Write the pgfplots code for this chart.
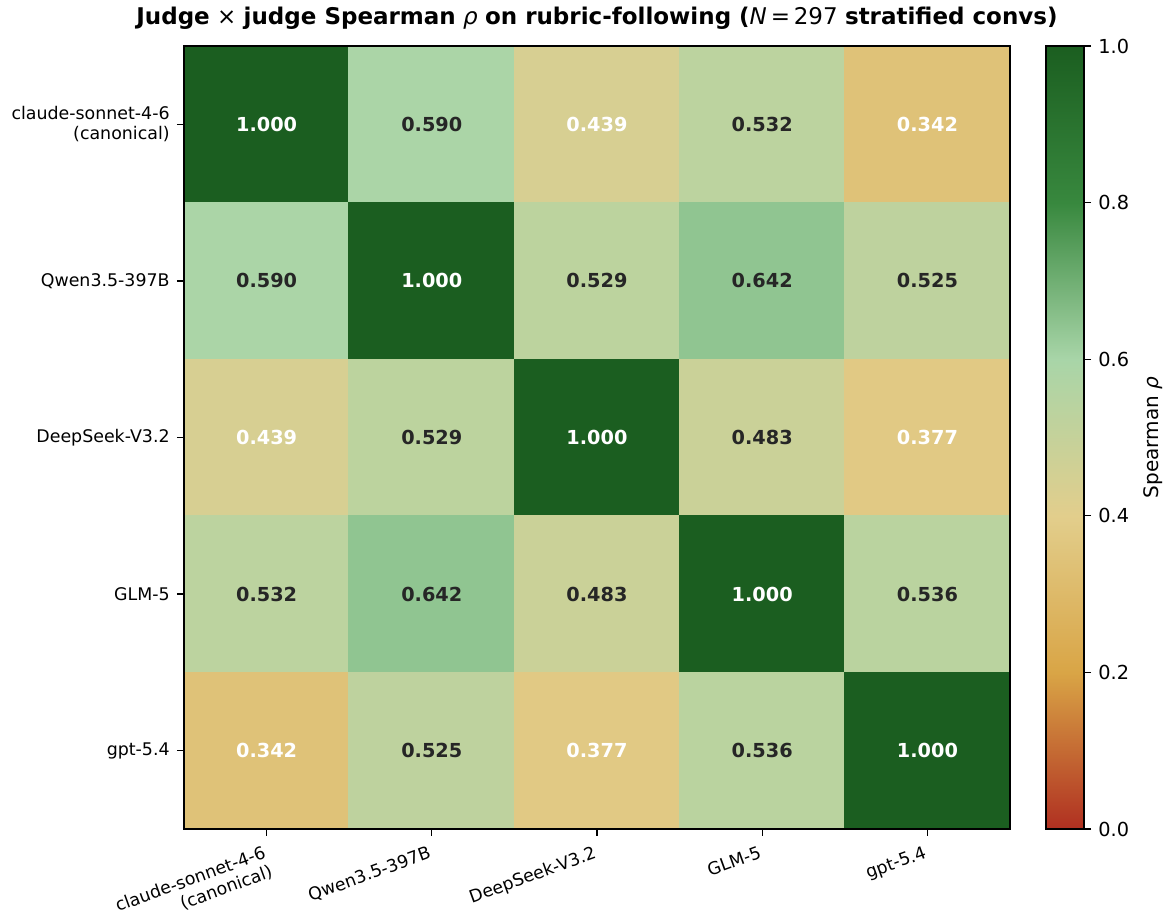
\documentclass[border=0pt]{standalone}
\usepackage{pgfplots}
\pgfplotsset{compat=1.18}
\usepackage{fontspec}
\setmainfont{DejaVu Sans}

\pgfplotsset{
  colormap={judge}{rgb255=(176,48,33) rgb255=(217,165,70) rgb255=(226,206,140)
                   rgb255=(168,213,168) rgb255=(56,136,62) rgb255=(27,94,32)},
}
\definecolor{darktext}{rgb}{0.15,0.15,0.15}

\begin{document}
\begin{tikzpicture}
\begin{axis}[
  at={(0,0)}, anchor=south west,
  scale only axis,
  width=413pt, height=391.5pt,
  xmin=-0.5, xmax=4.5, ymin=-0.5, ymax=4.5,
  y dir=reverse,
  axis on top,
  line width=0.7pt,
  tick align=outside,
  major tick length=3.5pt,
  xtick pos=lower, ytick pos=left,
  xtick={0,1,2,3,4}, ytick={0,1,2,3,4},
  xticklabels={{claude-sonnet-4-6\\(canonical)}, Qwen3.5-397B, DeepSeek-V3.2, GLM-5, gpt-5.4},
  yticklabels={{claude-sonnet-4-6\\(canonical)}, Qwen3.5-397B, DeepSeek-V3.2, GLM-5, gpt-5.4},
  xticklabel style={rotate=20, anchor=north east, align=right, font=\fontsize{8.7}{10}\selectfont},
  yticklabel style={align=right, font=\fontsize{8.7}{10}\selectfont},
  tick style={black, line width=0.6pt},
  title={\textbf{Judge} {\mdseries ×} \textbf{judge Spearman} {\mdseries\itshape ρ} \textbf{on rubric-following (}{\mdseries\itshape N}{\mdseries\,=\,297} \textbf{stratified convs)}},
  title style={at={(0.5,1)}, anchor=base, yshift=5pt, inner sep=0pt, font=\fontsize{11.5}{13}\selectfont},
  colormap name=judge,
  point meta min=0, point meta max=1,
  colorbar,
  colorbar/width=19pt,
  colorbar style={
    at={(parent axis.north east)}, anchor=north west, xshift=9.5pt,
    scale only axis, height=391.5pt,
    enlargelimits=false,
    ytick={0,0.2,0.4,0.6,0.8,1.0},
    ytick pos=right,
    yticklabel style={/pgf/number format/fixed, /pgf/number format/fixed zerofill,
      /pgf/number format/precision=1, /pgf/number format/assume math mode=true,
      font=\fontsize{9.65}{11}\selectfont},
    tick align=outside, major tick length=3.5pt,
    line width=0.7pt,
    ylabel={Spearman {\itshape ρ}},
    ylabel style={font=\fontsize{8.75}{10}\selectfont},
    ylabel near ticks, yticklabel pos=right,
  },
]
\addplot [matrix plot*, mesh/cols=5, point meta=explicit] coordinates {
  (0,0) [1.000] (1,0) [0.590] (2,0) [0.439] (3,0) [0.532] (4,0) [0.342]

  (0,1) [0.590] (1,1) [1.000] (2,1) [0.529] (3,1) [0.642] (4,1) [0.525]

  (0,2) [0.439] (1,2) [0.529] (2,2) [1.000] (3,2) [0.483] (4,2) [0.377]

  (0,3) [0.532] (1,3) [0.642] (2,3) [0.483] (3,3) [1.000] (4,3) [0.536]

  (0,4) [0.342] (1,4) [0.525] (2,4) [0.377] (3,4) [0.536] (4,4) [1.000]
};
% white labels
\addplot [only marks, mark=none, point meta=explicit symbolic,
  nodes near coords={\pgfplotspointmeta}, nodes near coords align=center,
  every node near coord/.append style={text=white, font=\bfseries\fontsize{9.65}{11}\selectfont}]
  coordinates {
  (0,0) [1.000] (2,0) [0.439] (4,0) [0.342]
  (1,1) [1.000]
  (0,2) [0.439] (2,2) [1.000] (4,2) [0.377]
  (3,3) [1.000]
  (0,4) [0.342] (2,4) [0.377] (4,4) [1.000]
};
% dark labels
\addplot [only marks, mark=none, point meta=explicit symbolic,
  nodes near coords={\pgfplotspointmeta}, nodes near coords align=center,
  every node near coord/.append style={text=darktext, font=\bfseries\fontsize{9.65}{11}\selectfont}]
  coordinates {
  (1,0) [0.590] (3,0) [0.532]
  (0,1) [0.590] (2,1) [0.529] (3,1) [0.642] (4,1) [0.525]
  (1,2) [0.529] (3,2) [0.483]
  (0,3) [0.532] (1,3) [0.642] (2,3) [0.483] (4,3) [0.536]
  (1,4) [0.525] (3,4) [0.536]
};
\end{axis}
\pgfresetboundingbox
\path[use as bounding box] (-92pt,-42pt) rectangle (489.5pt,414.5pt);
\end{tikzpicture}
\end{document}
